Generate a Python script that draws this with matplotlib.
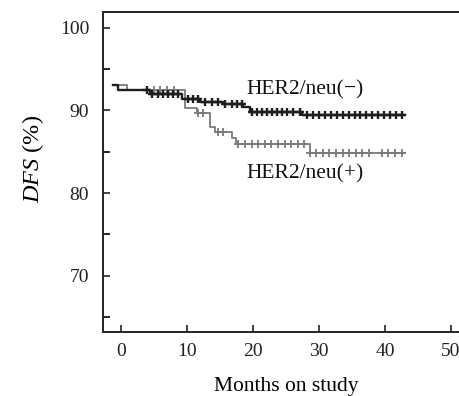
import numpy as np
import matplotlib
matplotlib.use("Agg")
import matplotlib.pyplot as plt

plt.rcParams['font.family'] = ['Liberation Serif', 'DejaVu Serif']
plt.rcParams['mathtext.fontset'] = 'custom'
plt.rcParams['mathtext.rm'] = 'Liberation Serif'
plt.rcParams['mathtext.it'] = 'Liberation Serif:italic'

# step curves (months, DFS %)
neg_t = [-1.2, -0.5, 4.4, 9.2, 12.0, 15.5, 18.5, 19.5, 27.4, 43.0]
neg_s = [93.1, 92.5, 92.0, 91.4, 91.0, 90.8, 90.4, 89.8, 89.4, 89.4]
pos_t = [-1.2, 0.9, 9.7, 11.5, 13.5, 14.2, 16.8, 17.5, 28.6, 43.0]
pos_s = [93.1, 92.5, 90.3, 89.7, 88.0, 87.4, 86.7, 85.9, 84.9, 84.9]

# censored observations
neg_cens = [3.9, 4.7, 5.6, 6.4, 7.1, 7.9, 8.6, 10.2, 10.9, 11.7, 12.7, 13.8, 14.7,
            15.8, 16.8, 17.6, 18.3, 19.8, 20.6, 21.4, 22.1, 22.9, 23.6, 24.4, 25.2,
            26.1, 27.1, 28.2, 29.1, 30.0, 30.9, 31.8, 32.7, 33.6, 34.5, 35.4, 36.3,
            37.2, 38.1, 39.0, 39.9, 40.8, 41.7, 42.6]
pos_cens = [5.0, 6.0, 7.0, 8.0, 11.7, 12.4, 14.7, 15.5, 17.8, 18.8, 19.8, 20.8,
            21.8, 22.8, 23.8, 24.8, 25.8, 26.8, 27.8, 28.6, 29.6, 30.6, 31.6, 32.6,
            33.6, 34.6, 35.6, 36.6, 37.6, 39.5, 40.5, 41.5, 42.6]

x_ticks = [0, 10, 20, 30, 40, 50]
y_ticks = [70, 80, 90, 100]


def surv_at(times, surv, t):
    idx = np.searchsorted(times, t, side='right') - 1
    return np.array(surv)[idx]


fig = plt.figure(figsize=(4.6, 3.96), dpi=100)
ax = fig.add_axes([0.2239, 0.1616, 0.798, 0.8081])

grey = '#7a7a7a'
dark = '#1e1e1e'
ax.step(pos_t, pos_s, where='post', color=grey, lw=1.3, zorder=2)
ax.plot(pos_cens, surv_at(pos_t, pos_s, pos_cens), '+', color=grey, ms=6, mew=1.3, zorder=2)
ax.step(neg_t, neg_s, where='post', color=dark, lw=1.7, zorder=3)
ax.plot(neg_cens, surv_at(neg_t, neg_s, neg_cens), '+', color=dark, ms=6, mew=1.7, zorder=3)

ax.text(19.1, 92.5, 'HER2/neu(\u2212)', fontsize=15.5, va='center', ha='left', color='#111111')
ax.text(19.1, 82.3, 'HER2/neu(+)', fontsize=15.5, va='center', ha='left', color='#111111')

ax.set_xlim(-2.7, 52.9)
ax.set_ylim(63.2, 101.9)
ax.set_xticks(x_ticks)
ax.set_yticks(y_ticks)
ax.set_yticks([65, 75, 85, 95], minor=True)
ax.tick_params(direction='in', length=5, width=1.2, labelsize=14, colors='#222222')
ax.tick_params(which='minor', direction='in', length=5, width=1.2)
ax.tick_params(axis='x', pad=8)
ax.tick_params(axis='y', pad=10)
ax.spines['right'].set_visible(False)
for s in ['left', 'bottom', 'top']:
    ax.spines[s].set_linewidth(1.4)
    ax.spines[s].set_color('#222222')

ax.set_xlabel('Months on study', fontsize=15.5, labelpad=12)
ax.set_ylabel('$\\mathit{DFS}$ (%)', fontsize=17.5, va='center')
ax.yaxis.set_label_coords(-0.19, 0.54)

fig.savefig('out.png', dpi=100)
